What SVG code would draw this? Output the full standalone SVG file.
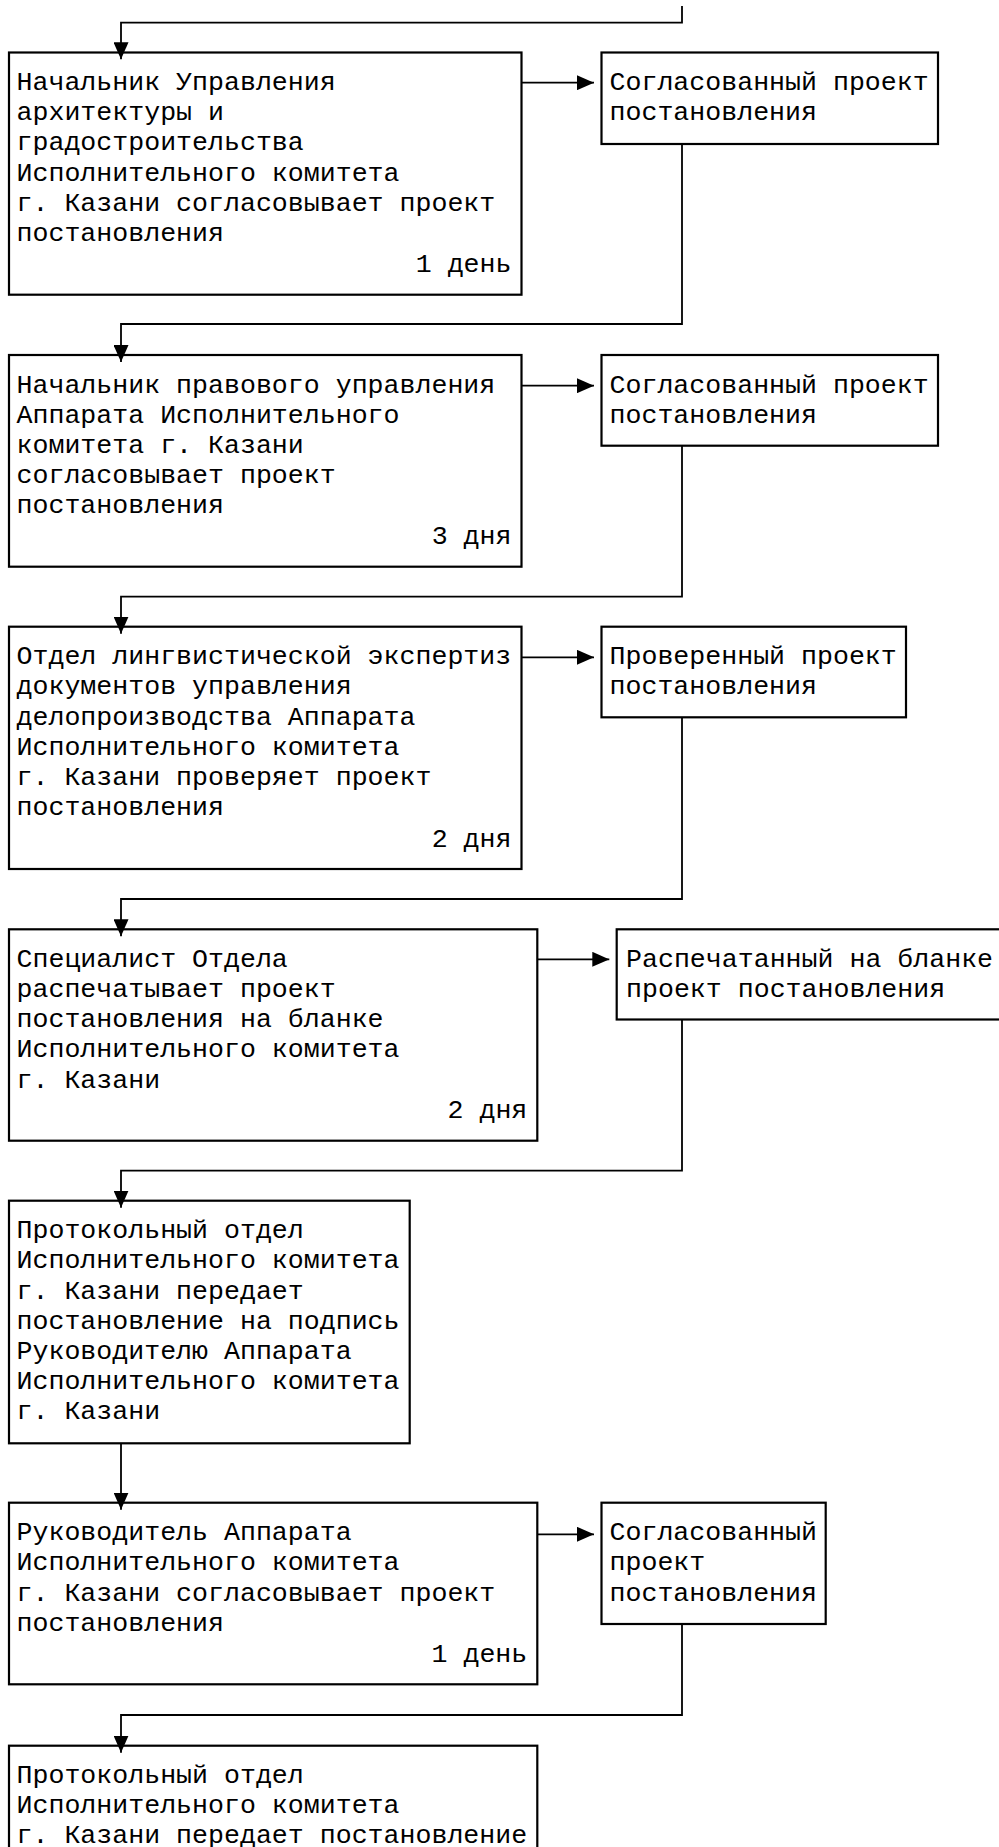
<svg xmlns="http://www.w3.org/2000/svg" width="999" height="1847" viewBox="0 0 999 1847">
<style>
  .box { fill: #fff; stroke: #000; stroke-width: 2.2; }
  .t { font-family: "Liberation Mono", "Courier New", monospace; font-size: 26.6px; fill: #000; }
  .d { text-anchor: end; }
  .c { fill: none; stroke: #000; stroke-width: 1.8; }
</style>
<defs>
  <marker id="ah" markerUnits="userSpaceOnUse" markerWidth="17" markerHeight="15" refX="17" refY="7.5" orient="auto">
    <path d="M0,0 L17,7.5 L0,15 z" fill="#000"/>
  </marker>
</defs>

<g id="n1">
  <rect class="box" x="9" y="52.5" width="512.5" height="242.2"/>
  <text class="t" x="16.5" y="90">Начальник Управления</text>
  <text class="t" x="16.5" y="120.2">архитектуры и</text>
  <text class="t" x="16.5" y="150.4">градостроительства</text>
  <text class="t" x="16.5" y="180.6">Исполнительного комитета</text>
  <text class="t" x="16.5" y="210.8">г. Казани согласовывает проект</text>
  <text class="t" x="16.5" y="241">постановления</text>
  <text class="t d" x="511.5" y="271.5">1 день</text>
</g>
<g id="r1">
  <rect class="box" x="601.5" y="52.5" width="336.5" height="91.5"/>
  <text class="t" x="609.5" y="90">Согласованный проект</text>
  <text class="t" x="609.5" y="120.2">постановления</text>
</g>

<g id="n2">
  <rect class="box" x="9" y="355" width="512.5" height="211.7"/>
  <text class="t" x="16.5" y="392.5">Начальник правового управления</text>
  <text class="t" x="16.5" y="422.7">Аппарата Исполнительного</text>
  <text class="t" x="16.5" y="452.9">комитета г. Казани</text>
  <text class="t" x="16.5" y="483.1">согласовывает проект</text>
  <text class="t" x="16.5" y="513.3">постановления</text>
  <text class="t d" x="511.5" y="543.7">3 дня</text>
</g>
<g id="r2">
  <rect class="box" x="601.5" y="355" width="336.5" height="90.7"/>
  <text class="t" x="609.5" y="392.5">Согласованный проект</text>
  <text class="t" x="609.5" y="422.7">постановления</text>
</g>

<g id="n3">
  <rect class="box" x="9" y="626.7" width="512.5" height="242.3"/>
  <text class="t" x="16.5" y="664.2">Отдел лингвистической экспертиз</text>
  <text class="t" x="16.5" y="694.4">документов управления</text>
  <text class="t" x="16.5" y="724.6">делопроизводства Аппарата</text>
  <text class="t" x="16.5" y="754.8">Исполнительного комитета</text>
  <text class="t" x="16.5" y="785">г. Казани проверяет проект</text>
  <text class="t" x="16.5" y="815.2">постановления</text>
  <text class="t d" x="511.5" y="846.5">2 дня</text>
</g>
<g id="r3">
  <rect class="box" x="601.5" y="626.7" width="304.5" height="90.6"/>
  <text class="t" x="609.5" y="664.2">Проверенный проект</text>
  <text class="t" x="609.5" y="694.4">постановления</text>
</g>

<g id="n4">
  <rect class="box" x="9" y="929.3" width="528.3" height="211.4"/>
  <text class="t" x="16.5" y="966.8">Специалист Отдела</text>
  <text class="t" x="16.5" y="997">распечатывает проект</text>
  <text class="t" x="16.5" y="1027.2">постановления на бланке</text>
  <text class="t" x="16.5" y="1057.4">Исполнительного комитета</text>
  <text class="t" x="16.5" y="1087.6">г. Казани</text>
  <text class="t d" x="527.3" y="1117.8">2 дня</text>
</g>
<g id="r4">
  <rect class="box" x="616.7" y="929.3" width="400" height="90.2"/>
  <text class="t" x="626" y="966.8">Распечатанный на бланке</text>
  <text class="t" x="626" y="997">проект постановления</text>
</g>

<g id="n5">
  <rect class="box" x="9" y="1200.7" width="400.7" height="242.6"/>
  <text class="t" x="16.5" y="1238.2">Протокольный отдел</text>
  <text class="t" x="16.5" y="1268.4">Исполнительного комитета</text>
  <text class="t" x="16.5" y="1298.6">г. Казани передает</text>
  <text class="t" x="16.5" y="1328.8">постановление на подпись</text>
  <text class="t" x="16.5" y="1359">Руководителю Аппарата</text>
  <text class="t" x="16.5" y="1389.2">Исполнительного комитета</text>
  <text class="t" x="16.5" y="1419.4">г. Казани</text>
</g>

<g id="n6">
  <rect class="box" x="9" y="1502.7" width="528.3" height="181.6"/>
  <text class="t" x="16.5" y="1540.2">Руководитель Аппарата</text>
  <text class="t" x="16.5" y="1570.4">Исполнительного комитета</text>
  <text class="t" x="16.5" y="1600.6">г. Казани согласовывает проект</text>
  <text class="t" x="16.5" y="1630.8">постановления</text>
  <text class="t d" x="527.3" y="1662">1 день</text>
</g>
<g id="r6">
  <rect class="box" x="601.5" y="1502.7" width="224.2" height="121.3"/>
  <text class="t" x="609.5" y="1540.2">Согласованный</text>
  <text class="t" x="609.5" y="1570.4">проект</text>
  <text class="t" x="609.5" y="1600.6">постановления</text>
</g>

<g id="n7">
  <rect class="box" x="9" y="1745.7" width="528.3" height="130"/>
  <text class="t" x="16.5" y="1783.2">Протокольный отдел</text>
  <text class="t" x="16.5" y="1813.4">Исполнительного комитета</text>
  <text class="t" x="16.5" y="1842.5">г. Казани передает постановление</text>
</g>

<g id="connectors">
  <polyline class="c" points="682,6 682,22.7 121,22.7 121,59.3" marker-end="url(#ah)"/>
  <line class="c" x1="521.5" y1="82.7" x2="594" y2="82.7" marker-end="url(#ah)"/>
  <polyline class="c" points="682,144 682,324 121,324 121,362" marker-end="url(#ah)"/>
  <line class="c" x1="521.5" y1="385.7" x2="594" y2="385.7" marker-end="url(#ah)"/>
  <polyline class="c" points="682,445.7 682,596.7 121,596.7 121,633.7" marker-end="url(#ah)"/>
  <line class="c" x1="521.5" y1="657.3" x2="594" y2="657.3" marker-end="url(#ah)"/>
  <polyline class="c" points="682,717.3 682,899 121,899 121,936.3" marker-end="url(#ah)"/>
  <line class="c" x1="537.3" y1="959.3" x2="609.3" y2="959.3" marker-end="url(#ah)"/>
  <polyline class="c" points="682,1019.5 682,1170.7 121,1170.7 121,1207.7" marker-end="url(#ah)"/>
  <line class="c" x1="121" y1="1443.3" x2="121" y2="1509.7" marker-end="url(#ah)"/>
  <line class="c" x1="537.3" y1="1534.3" x2="594" y2="1534.3" marker-end="url(#ah)"/>
  <polyline class="c" points="682,1624 682,1715 121,1715 121,1752.7" marker-end="url(#ah)"/>
</g>
</svg>
